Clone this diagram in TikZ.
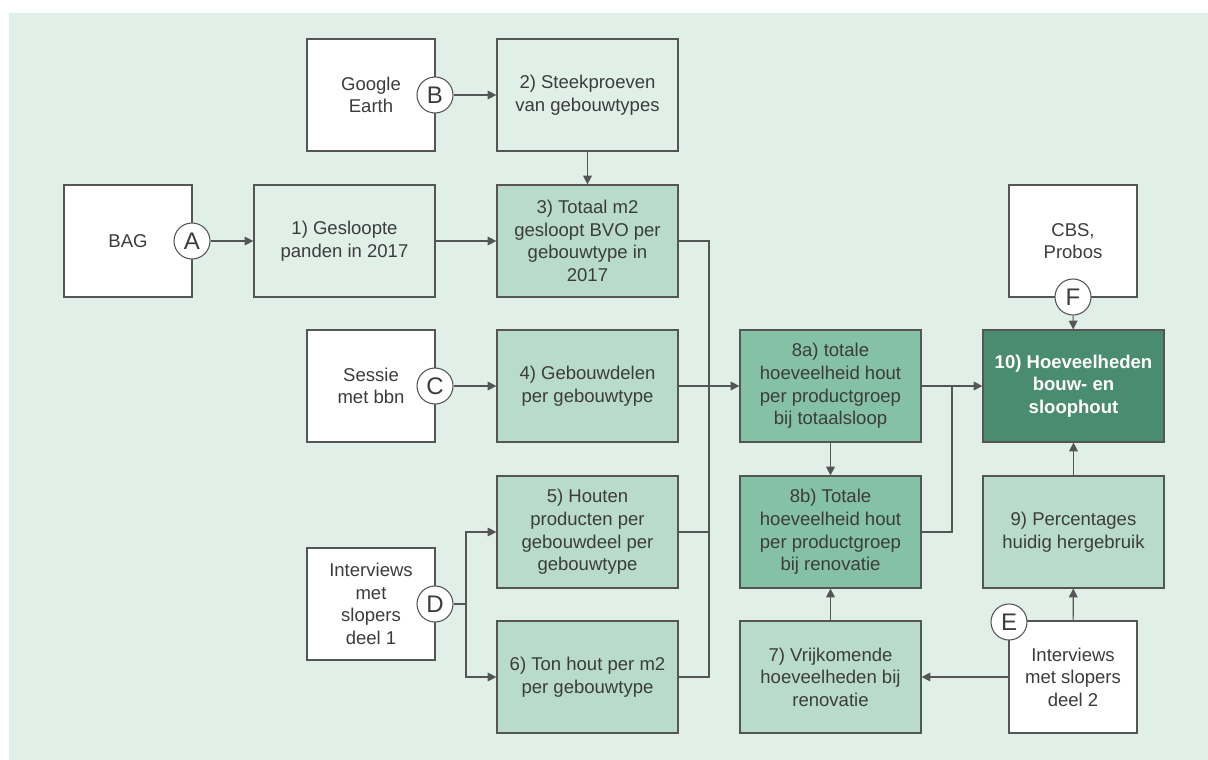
\documentclass[tikz,border=0pt]{standalone}
\usepackage{fontspec}
\setmainfont{Liberation Sans}
\usetikzlibrary{arrows.meta}
\definecolor{bgmint}{HTML}{E0EFE8}
\definecolor{lightgreen}{HTML}{B8DBCC}
\definecolor{midgreen}{HTML}{85C1A5}
\definecolor{darkgreen}{HTML}{4A8C6F}
\definecolor{edgegray}{HTML}{555555}
\definecolor{textgray}{HTML}{3C3C3C}
\begin{document}
\begin{tikzpicture}[x=0.75pt,y=-0.75pt,
  box/.style={draw=edgegray, line width=0.9pt, minimum height=84pt, inner sep=2pt,
    align=center, text=textgray, font=\fontsize{13.9}{16.9}\selectfont},
  srcbox/.style={box, fill=white, minimum width=96pt},
  plainbox/.style={box, fill=bgmint, minimum width=135.75pt},
  lightbox/.style={box, fill=lightgreen, minimum width=135.75pt},
  midbox/.style={box, fill=midgreen, minimum width=135.75pt},
  darkbox/.style={box, fill=darkgreen, minimum width=135.75pt, text=white,
    font=\fontsize{13.9}{16.9}\selectfont\bfseries},
  badge/.style={circle, draw=edgegray, line width=0.8pt, fill=white, minimum size=27pt,
    inner sep=0pt, text=textgray, font=\fontsize{18}{18}\selectfont},
  link/.style={draw=edgegray, line width=0.8pt},
  arrow/.style={link, -{Triangle[length=6.5pt,width=6.5pt]}}
]
% canvas and tinted panel
\useasboundingbox (0,0) rectangle (1208,760);
\fill[bgmint] (9,13) rectangle (1208,760);

% source boxes
\node[srcbox] (ge)   at (371,95)  {Google\\Earth};
\node[srcbox] (bag)  at (128,241) {BAG};
\node[srcbox] (ses)  at (371,386) {Sessie\\met bbn};
\node[srcbox] (int1) at (371,604) {Interviews\\met\\slopers\\deel 1};
\node[srcbox] (cbs)  at (1073,241) {CBS,\\Probos};
\node[srcbox] (int2) at (1073,677) {Interviews\\met slopers\\deel 2};

% process steps
\node[plainbox] (s1) at (344.5,241) {1) Gesloopte\\panden in 2017};
\node[plainbox] (s2) at (587.5,95)  {2) Steekproeven\\van gebouwtypes};
\node[lightbox] (s3) at (587.5,241) {3) Totaal m2\\gesloopt BVO per\\gebouwtype in\\2017};
\node[lightbox] (s4) at (587.5,386) {4) Gebouwdelen\\per gebouwtype};
\node[lightbox] (s5) at (587.5,532) {5) Houten\\producten per\\gebouwdeel per\\gebouwtype};
\node[lightbox] (s6) at (587.5,677) {6) Ton hout per m2\\per gebouwtype};
\node[midbox]   (s8a) at (830.5,386) {8a) totale\\hoeveelheid hout\\per productgroep\\bij totaalsloop};
\node[midbox]   (s8b) at (830.5,532) {8b) Totale\\hoeveelheid hout\\per productgroep\\bij renovatie};
\node[lightbox] (s7) at (830.5,677) {7) Vrijkomende\\hoeveelheden bij\\renovatie};
\node[darkbox]  (s10) at (1073.5,386) {10) Hoeveelheden\\bouw- en\\sloophout};
\node[lightbox] (s9) at (1073.5,532) {9) Percentages\\huidig hergebruik};

% source badges
\node[badge] (ba) at (192,241)  {A};
\node[badge] (bb) at (435,95)   {B};
\node[badge] (bc) at (435,386)  {C};
\node[badge] (bd) at (435,604)  {D};
\node[badge] (be) at (1009,622) {E};
\node[badge] (bf) at (1073,297) {F};

% junction points
\coordinate (c3) at (709,241);
\coordinate (c5) at (709,532);
\coordinate (c6) at (709,677);
\coordinate (dsplit) at (466,604);
\coordinate (dup) at (466,532);
\coordinate (ddown) at (466,677);
\coordinate (r8b) at (952,532);
\coordinate (r8a) at (952,386);

% connectors
\draw[arrow] (ba) -- (s1);
\draw[arrow] (bb) -- (s2);
\draw[arrow] (s2) -- (s3);
\draw[arrow] (s1) -- (s3);
\draw[arrow] (bc) -- (s4);
\draw[link] (bd) -- (dsplit);
\draw[arrow] (dsplit) -- (dup) -- (s5.west);
\draw[arrow] (dsplit) -- (ddown) -- (s6.west);
\draw[link] (s3.east) -- (c3) -- (c6) -- (s6.east);
\draw[link] (s5.east) -- (c5);
\draw[arrow] (s4) -- (s8a);
\draw[arrow] (s8a) -- (s8b);
\draw[arrow] (s7) -- (s8b);
\draw[arrow] (s8a) -- (s10);
\draw[link] (s8b.east) -- (r8b) -- (r8a);
\draw[arrow] (bf) -- (s10);
\draw[arrow] (s9) -- (s10);
\draw[arrow] (int2) -- (s9);
\draw[arrow] (int2) -- (s7);
\end{tikzpicture}
\end{document}
